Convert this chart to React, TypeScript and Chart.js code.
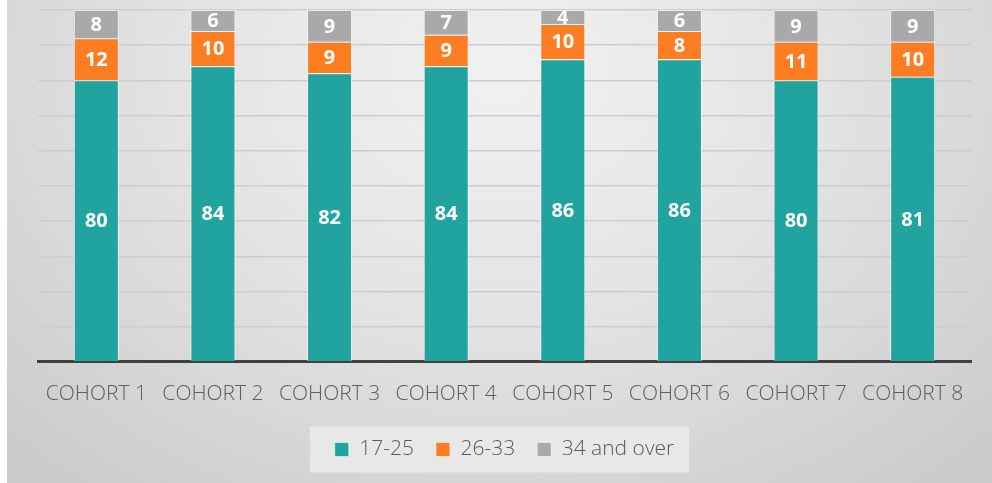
import React, { useEffect, useRef } from "react";
import { Chart, registerables } from "chart.js";

Chart.register(...registerables);

const categories = ["COHORT 1", "COHORT 2", "COHORT 3", "COHORT 4", "COHORT 5", "COHORT 6", "COHORT 7", "COHORT 8"];
const seriesNames = ["17-25", "26-33", "34 and over"];
const age17to25 = [80, 84, 82, 84, 86, 86, 80, 81];
const age26to33 = [12, 10, 9, 9, 10, 8, 11, 10];
const age34over = [8, 6, 9, 7, 4, 6, 9, 9];
const yMax = 100;
const yStep = 10;

const colors = ["#21a39f", "#fd7d22", "#a9a9a9"];

const dataLabelPlugin = {
  id: "segmentLabels",
  afterDatasetsDraw(chart: any) {
    const ctx = chart.ctx;
    ctx.save();
    ctx.fillStyle = "#ffffff";
    ctx.font = "bold 20px 'Open Sans', sans-serif";
    ctx.textAlign = "center";
    ctx.textBaseline = "middle";
    chart.data.datasets.forEach((ds: any, di: number) => {
      const meta = chart.getDatasetMeta(di);
      meta.data.forEach((el: any, i: number) => {
        const v = ds.data[i];
        const cy = (el.y + el.base) / 2;
        ctx.fillText(String(v), el.x, cy + 1);
      });
    });
    ctx.restore();
  },
};

const legendBgPlugin = {
  id: "legendBg",
  beforeDraw(chart: any) {
    const lg = chart.legend;
    if (!lg || !lg.legendHitBoxes || !lg.legendHitBoxes.length) return;
    const hb = lg.legendHitBoxes;
    const first = hb[0];
    const last = hb[hb.length - 1];
    const left = first.left - 25;
    const right = last.left + last.width + 15;
    const cy = first.top + first.height / 2;
    const ctx = chart.ctx;
    ctx.save();
    ctx.fillStyle = "rgba(238,238,238,0.75)";
    ctx.fillRect(left, cy - 23, right - left, 46);
    ctx.restore();
  },
};

export default function App() {
  const ref = useRef<HTMLCanvasElement | null>(null);

  useEffect(() => {
    if (!ref.current) return;
    const chart = new Chart(ref.current, {
      type: "bar",
      data: {
        labels: categories,
        datasets: [
          { label: seriesNames[0], data: age17to25, backgroundColor: colors[0] },
          { label: seriesNames[1], data: age26to33, backgroundColor: colors[1] },
          { label: seriesNames[2], data: age34over, backgroundColor: colors[2] },
        ].map((d) => ({
          ...d,
          borderColor: "rgba(255,255,255,0.55)",
          borderWidth: 1,
          categoryPercentage: 1,
          barPercentage: 0.386,
        })),
      },
      options: {
        responsive: false,
        animation: false,
        devicePixelRatio: 1,
        layout: { padding: { left: 38, right: 21, top: 10, bottom: 13 } },
        plugins: {
          tooltip: { enabled: false },
          legend: {
            position: "bottom",
            labels: {
              boxWidth: 14,
              boxHeight: 14,
              padding: 22,
              color: "#595959",
              font: { family: "'Open Sans', sans-serif", size: 21, weight: "300" },
            },
          },
        },
        scales: {
          x: {
            stacked: true,
            grid: { display: false },
            border: { display: true, color: "#404040", width: 3 },
            afterFit: (scale: any) => {
              scale.height -= 2;
            },
            ticks: {
              color: "#5e5e5e",
              padding: 12,
              maxRotation: 0,
              autoSkip: false,
              font: { family: "'Open Sans', sans-serif", size: 21, weight: "300" },
            },
          },
          y: {
            stacked: true,
            min: 0,
            max: yMax,
            ticks: { display: false, stepSize: yStep },
            border: { display: false },
            grid: { color: "#cdcdcd", lineWidth: 1.5, drawTicks: false },
          },
        },
      },
      plugins: [legendBgPlugin, dataLabelPlugin],
    });
    return () => chart.destroy();
  }, []);

  return (
    <div style={{ position: "absolute", left: 0, top: 0, width: 992, height: 483, background: "#ffffff", overflow: "hidden" }}>
      <div
        style={{
          position: "absolute",
          left: 7,
          top: 0,
          width: 985,
          height: 483,
          background: "radial-gradient(ellipse 70% 110% at 50% 15%, #f1f1f1 0%, #e4e4e4 45%, #cbcbcb 100%)",
        }}
      />
      <canvas ref={ref} width={992} height={483} style={{ position: "absolute", left: 0, top: 0 }} />
    </div>
  );
}
